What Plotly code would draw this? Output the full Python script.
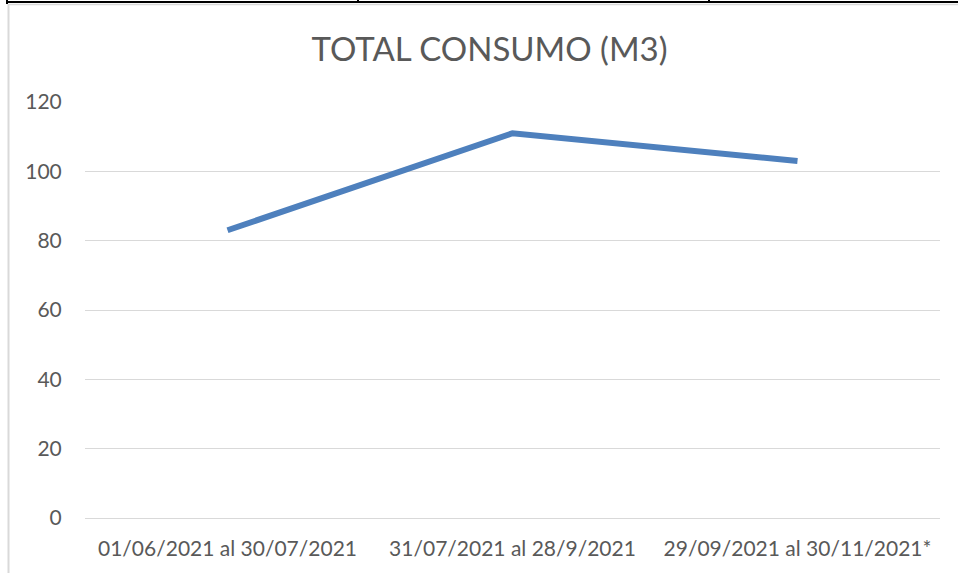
import plotly.graph_objects as go

# Consumption periods and total volume (m3)
periodos = ["01/06/2021 al 30/07/2021", "31/07/2021 al 28/9/2021", "29/09/2021 al 30/11/2021*"]
consumo_m3 = [83, 111, 103]
y_ticks = [0, 20, 40, 60, 80, 100, 120]

W, H = 958, 573
gray_text = "#595959"
font_family = "Lato, 'Open Sans', sans-serif"

fig = go.Figure()
fig.add_trace(go.Scatter(
    x=periodos,
    y=consumo_m3,
    mode="lines",
    line=dict(color="#4E80BD", width=6),
    hoverinfo="x+y",
))

fig.update_layout(
    width=W,
    height=H,
    margin=dict(l=85, r=18, t=102, b=55),
    paper_bgcolor="white",
    plot_bgcolor="white",
    showlegend=False,
    font=dict(family=font_family, color=gray_text, size=21),
    title=dict(
        text="TOTAL CONSUMO (M3)",
        x=0.511,
        xanchor="center",
        y=1 - 49 / H,
        yanchor="middle",
        font=dict(family=font_family, size=33, color=gray_text),
    ),
    xaxis=dict(
        type="category",
        range=[-0.5, 2.5],
        showgrid=False,
        zeroline=False,
        showline=False,
        ticks="outside",
        ticklen=12,
        tickcolor="rgba(0,0,0,0)",
        tickfont=dict(size=21, color=gray_text),
    ),
    yaxis=dict(
        range=[0, 120],
        tickvals=y_ticks,
        showgrid=True,
        gridcolor="#D9D9D9",
        gridwidth=1,
        zeroline=True,
        zerolinecolor="#D9D9D9",
        zerolinewidth=1,
        showline=False,
        ticks="outside",
        ticklen=18,
        tickcolor="rgba(0,0,0,0)",
        tickfont=dict(size=21, color=gray_text),
    ),
)

# Frame lines drawn in pixel coordinates converted to paper fractions
pw, ph = W - 85 - 18, H - 102 - 55


def px(x):
    return (x - 85) / pw


def py(y):
    return (H - 55 - y) / ph


frame = [
    # black table border along the top and its cell dividers
    dict(x0=px(6), x1=px(W), y0=py(2), y1=py(2), color="black", width=2),
    dict(x0=px(7), x1=px(7), y0=py(0), y1=py(4), color="black", width=2),
    dict(x0=px(358), x1=px(358), y0=py(0), y1=py(3), color="black", width=2),
    dict(x0=px(709), x1=px(709), y0=py(0), y1=py(3), color="black", width=2),
    # light chart-area border
    dict(x0=px(8), x1=px(W), y0=py(4.5), y1=py(4.5), color="#D9D9D9", width=1.5),
    dict(x0=px(8.5), x1=px(8.5), y0=py(4), y1=py(H), color="#D9D9D9", width=2),
]
for s in frame:
    fig.add_shape(type="line", xref="paper", yref="paper",
                  x0=s["x0"], x1=s["x1"], y0=s["y0"], y1=s["y1"],
                  line=dict(color=s["color"], width=s["width"]))

fig.write_html("out.html")
